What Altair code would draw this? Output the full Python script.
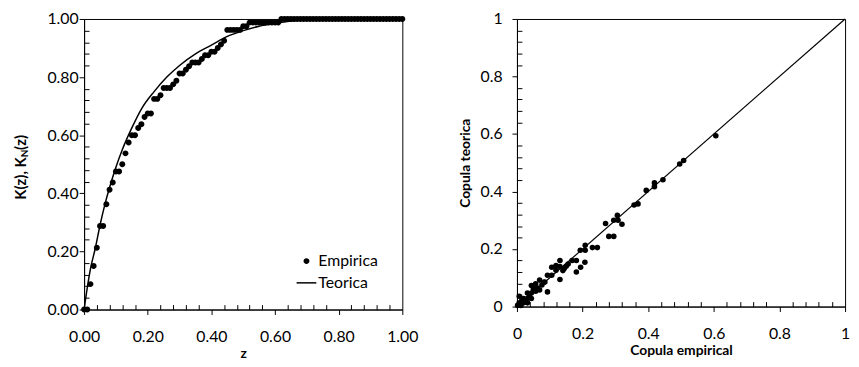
import altair as alt
import pandas as pd

# ---------------- data ----------------
z_emp = [0.00, 0.01, 0.02, 0.03, 0.04, 0.05, 0.06, 0.07, 0.08, 0.09,
         0.10, 0.11, 0.12, 0.13, 0.14, 0.15, 0.16, 0.17, 0.18, 0.19,
         0.20, 0.21, 0.22, 0.23, 0.24, 0.25, 0.26, 0.27, 0.28, 0.29,
         0.30, 0.31, 0.32, 0.33, 0.34, 0.35, 0.36, 0.37, 0.38, 0.39,
         0.40, 0.41, 0.42, 0.43, 0.44, 0.45, 0.46, 0.47, 0.48, 0.49,
         0.50, 0.51, 0.52, 0.53, 0.54, 0.55, 0.56, 0.57, 0.58, 0.59,
         0.60, 0.61, 0.62, 0.63, 0.64, 0.65, 0.66, 0.67, 0.68, 0.69,
         0.70, 0.71, 0.72, 0.73, 0.74, 0.75, 0.76, 0.77, 0.78, 0.79,
         0.80, 0.81, 0.82, 0.83, 0.84, 0.85, 0.86, 0.87, 0.88, 0.89,
         0.90, 0.91, 0.92, 0.93, 0.94, 0.95, 0.96, 0.97, 0.98, 0.99,
         1.00]
k_emp = [0.0, 0.0, 0.0875, 0.15, 0.2125, 0.2875, 0.2875, 0.3625, 0.4125, 0.4375,
         0.475, 0.475, 0.5, 0.5375, 0.575, 0.6, 0.6, 0.625, 0.6375, 0.6625,
         0.675, 0.675, 0.725, 0.725, 0.7375, 0.7625, 0.7625, 0.7625, 0.775, 0.7875,
         0.8125, 0.8125, 0.825, 0.8375, 0.85, 0.85, 0.85, 0.8625, 0.875, 0.875,
         0.8875, 0.8875, 0.9, 0.9125, 0.925, 0.9625, 0.9625, 0.9625, 0.9625, 0.9625,
         0.975, 0.975, 0.9875, 0.9875, 0.9875, 0.9875, 0.9875, 0.9875, 0.9875, 0.9875,
         0.9875, 0.9875, 1.0, 1.0, 1.0, 1.0, 1.0, 1.0, 1.0, 1.0,
         1.0, 1.0, 1.0, 1.0, 1.0, 1.0, 1.0, 1.0, 1.0, 1.0,
         1.0, 1.0, 1.0, 1.0, 1.0, 1.0, 1.0, 1.0, 1.0, 1.0,
         1.0, 1.0, 1.0, 1.0, 1.0, 1.0, 1.0, 1.0, 1.0, 1.0,
         1.0]

z_teo = [0.0, 0.01, 0.02, 0.035, 0.05, 0.065, 0.08, 0.10, 0.12, 0.15,
         0.18, 0.22, 0.26, 0.30, 0.35, 0.40, 0.45, 0.50, 0.55, 0.60,
         0.65, 0.70, 0.80, 0.90, 1.00]
k_teo = [0.0, 0.075, 0.14, 0.21, 0.29, 0.36, 0.42, 0.49, 0.55, 0.625,
         0.69, 0.75, 0.80, 0.84, 0.88, 0.91, 0.94, 0.96, 0.975, 0.985,
         0.993, 0.998, 1.0, 1.0, 1.0]

u_emp = [0.606, 0.496, 0.508, 0.445, 0.419, 0.419, 0.394, 0.357, 0.369, 0.306,
         0.295, 0.308, 0.320, 0.270, 0.280, 0.295, 0.230, 0.245, 0.208, 0.193,
         0.208, 0.207, 0.194, 0.181, 0.181, 0.168, 0.156, 0.144, 0.131, 0.131,
         0.131, 0.119, 0.106, 0.119, 0.106, 0.093, 0.093, 0.081, 0.069, 0.057,
         0.069, 0.057, 0.044, 0.044, 0.044, 0.032, 0.032, 0.032, 0.020, 0.020,
         0.007, 0.007, 0.002, 0.012, 0.054, 0.076, 0.060, 0.050, 0.038, 0.026,
         0.015, 0.085, 0.140, 0.150]
v_teo = [0.594, 0.496, 0.508, 0.441, 0.430, 0.417, 0.404, 0.353, 0.357, 0.317,
         0.300, 0.300, 0.286, 0.289, 0.244, 0.244, 0.205, 0.205, 0.213, 0.196,
         0.196, 0.154, 0.137, 0.120, 0.160, 0.160, 0.148, 0.132, 0.160, 0.139,
         0.094, 0.143, 0.137, 0.126, 0.109, 0.109, 0.051, 0.084, 0.092, 0.079,
         0.058, 0.053, 0.073, 0.047, 0.028, 0.047, 0.028, 0.013, 0.028, 0.013,
         0.036, 0.013, 0.004, 0.004, 0.064, 0.075, 0.066, 0.060, 0.040, 0.020,
         0.022, 0.085, 0.125, 0.140]

diag = [0.0, 1.0]
series = ["Empirica", "Teorica"]

major = [0.0, 0.2, 0.4, 0.6, 0.8, 1.0]
minor = [0.04, 0.08, 0.12, 0.16, 0.24, 0.28, 0.32, 0.36, 0.44, 0.48, 0.52, 0.56,
         0.64, 0.68, 0.72, 0.76, 0.84, 0.88, 0.92, 0.96]

FONT = "Lato"
LAB = 16
TIT = 14

CIRCLE = "M-0.3,0A0.3,0.3 0 1,1 0.3,0A0.3,0.3 0 1,1 -0.3,0Z"
DASH = "M-1,-0.075L1,-0.075L1,0.075L-1,0.075Z"

emp_df = pd.DataFrame({"z": z_emp, "K": k_emp, "serie": ["Empirica"] * len(z_emp)})
teo_df = pd.DataFrame({"z": z_teo, "K": k_teo})
sc_df = pd.DataFrame({"u": u_emp, "v": v_teo})
diag_df = pd.DataFrame({"u": diag, "v": diag})
one = pd.DataFrame({"a": [0]})


def sc():
    return alt.Scale(domain=[0, 1], nice=False, zero=False)


def minor_axis(orient):
    return alt.Axis(orient=orient, values=minor, offset=-5, tickSize=5, labels=False,
                    domain=False, grid=False, title=None, tickColor="black", tickWidth=1)


# ---------------- left panel ----------------
LW, LH = 322, 294

pts = alt.Chart(emp_df).mark_point(filled=True, opacity=1, color="black", size=400).encode(
    x=alt.X("z:Q", scale=sc(), axis=alt.Axis(
        orient="bottom", values=major, format=".2f", title="z", tickSize=5,
        labelPadding=14, titlePadding=3, grid=False, labelFlush=False)),
    y=alt.Y("K:Q", scale=sc(), axis=alt.Axis(
        orient="left", values=major, format=".2f", title=None, tickSize=5,
        labelPadding=1, grid=False, labelFlush=False)),
    shape=alt.Shape("serie:N", scale=alt.Scale(domain=series, range=[CIRCLE, DASH]),
                    legend=alt.Legend(title=None, orient="none", legendX=215, legendY=235,
                                      symbolSize=400, symbolFillColor="black",
                                      symbolStrokeWidth=0,
                                      labelFont=FONT, labelFontSize=LAB, labelColor="black",
                                      labelOffset=2, rowPadding=4, padding=0)),
)

teo = alt.Chart(teo_df).mark_line(color="black", strokeWidth=1.5, interpolate="monotone").encode(
    x=alt.X("z:Q", scale=sc(), axis=minor_axis("bottom")),
    y=alt.Y("K:Q", scale=sc(), axis=minor_axis("left")),
)

TX, TY = -64, 140
ytxt_style = dict(angle=270, baseline="middle", font=FONT, fontWeight="bold", color="black")
t1 = alt.Chart(one).mark_text(text="K(z), K", align="right", fontSize=TIT + 1, **ytxt_style).encode(
    x=alt.value(TX), y=alt.value(TY))
t2 = alt.Chart(one).mark_text(text="N", align="left", fontSize=10, dy=4, **ytxt_style).encode(
    x=alt.value(TX), y=alt.value(TY))
t3 = alt.Chart(one).mark_text(text="(z)", align="left", fontSize=TIT + 1, dx=7.5, **ytxt_style).encode(
    x=alt.value(TX), y=alt.value(TY))

left = alt.layer(pts, teo, t1, t2, t3).resolve_scale(
    x="independent", y="independent").properties(width=LW, height=LH)

# ---------------- right panel ----------------
RW, RH = 332, 291

sc_pts = alt.Chart(sc_df).mark_circle(color="black", size=32, opacity=1).encode(
    x=alt.X("u:Q", scale=sc(), axis=alt.Axis(
        orient="bottom", values=major, format="~g", title="Copula empirical", tickSize=5,
        labelPadding=14, titlePadding=3, grid=False, labelFlush=False)),
    y=alt.Y("v:Q", scale=sc(), axis=alt.Axis(
        orient="left", values=major, format="~g", title="Copula teorica", tickSize=5,
        labelPadding=10, titlePadding=8, grid=False, labelFlush=False)),
)
dline = alt.Chart(diag_df).mark_line(color="black", strokeWidth=1.2).encode(
    x=alt.X("u:Q", scale=sc(), axis=minor_axis("bottom")),
    y=alt.Y("v:Q", scale=sc(), axis=minor_axis("left")),
)
right = alt.layer(sc_pts, dline).resolve_scale(
    x="independent", y="independent").properties(width=RW, height=RH)

chart = alt.hconcat(left, right, spacing=116, bounds="flush").properties(
    padding={"left": 5, "top": 0, "right": 0, "bottom": 0}
).configure_view(stroke="black", strokeWidth=1).configure_axis(
    labelFont=FONT, labelFontSize=LAB, labelColor="black",
    titleFont=FONT, titleFontSize=TIT, titleFontWeight="bold", titleColor="black",
    domainColor="black", tickColor="black", domainWidth=1, tickWidth=1,
)

chart.save("out.html", embed_options={"renderer": "svg", "actions": False})
